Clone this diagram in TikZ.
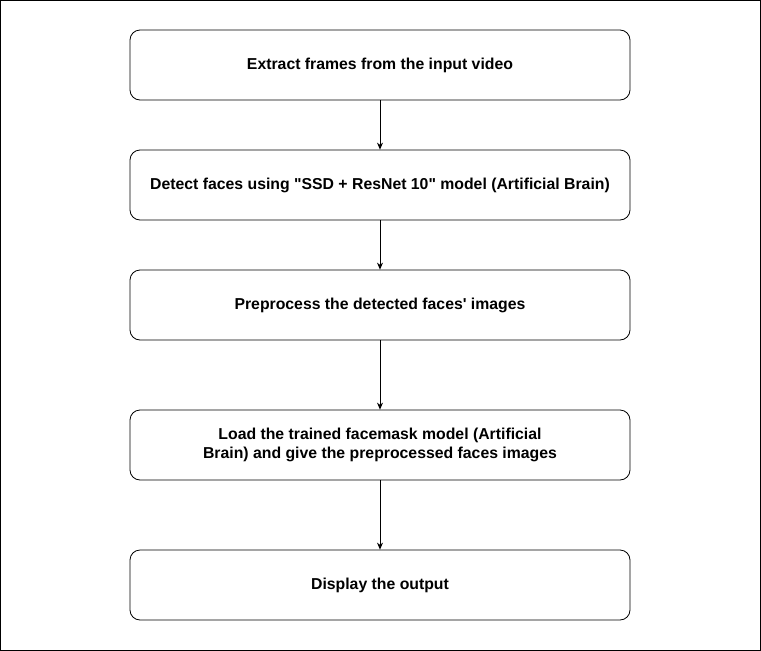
\documentclass[tikz,border=0pt]{standalone}
\usepackage{fontspec}
\setmainfont{Liberation Sans}
\usetikzlibrary{arrows.meta}
\tikzset{
    stepbox/.style={draw, rounded corners=10pt, minimum width=500pt, minimum height=70pt,
        align=center, font=\fontsize{15.8}{19}\selectfont\bfseries, inner sep=0pt},
    flow/.style={-{Stealth[length=7pt,width=6pt]}, line width=0.8pt}
}
\begin{document}
\begin{tikzpicture}[x=1pt,y=-1pt,line width=0.8pt]
            \useasboundingbox (0,0) rectangle (761,651);
            \draw[line width=1pt] (0.5,0.5) rectangle (760.5,650.5);
            \node[stepbox] (extract) at (380,65) {Extract frames from the input video};
            \node[stepbox] (detect) at (380,185) {Detect faces using \textquotedbl SSD + ResNet 10\textquotedbl{} model (Artificial Brain)};
            \node[stepbox] (preprocess) at (380,305) {Preprocess the detected faces\textquotesingle{} images};
            \node[stepbox] (load) at (380,445) {Load the trained facemask model (Artificial\\Brain) and give the preprocessed faces images};
            \node[stepbox] (display) at (380,585) {Display the output};
            \draw[flow] (extract) -- (detect);
            \draw[flow] (detect) -- (preprocess);
            \draw[flow] (preprocess) -- (load);
            \draw[flow] (load) -- (display);
        \end{tikzpicture}
\end{document}
